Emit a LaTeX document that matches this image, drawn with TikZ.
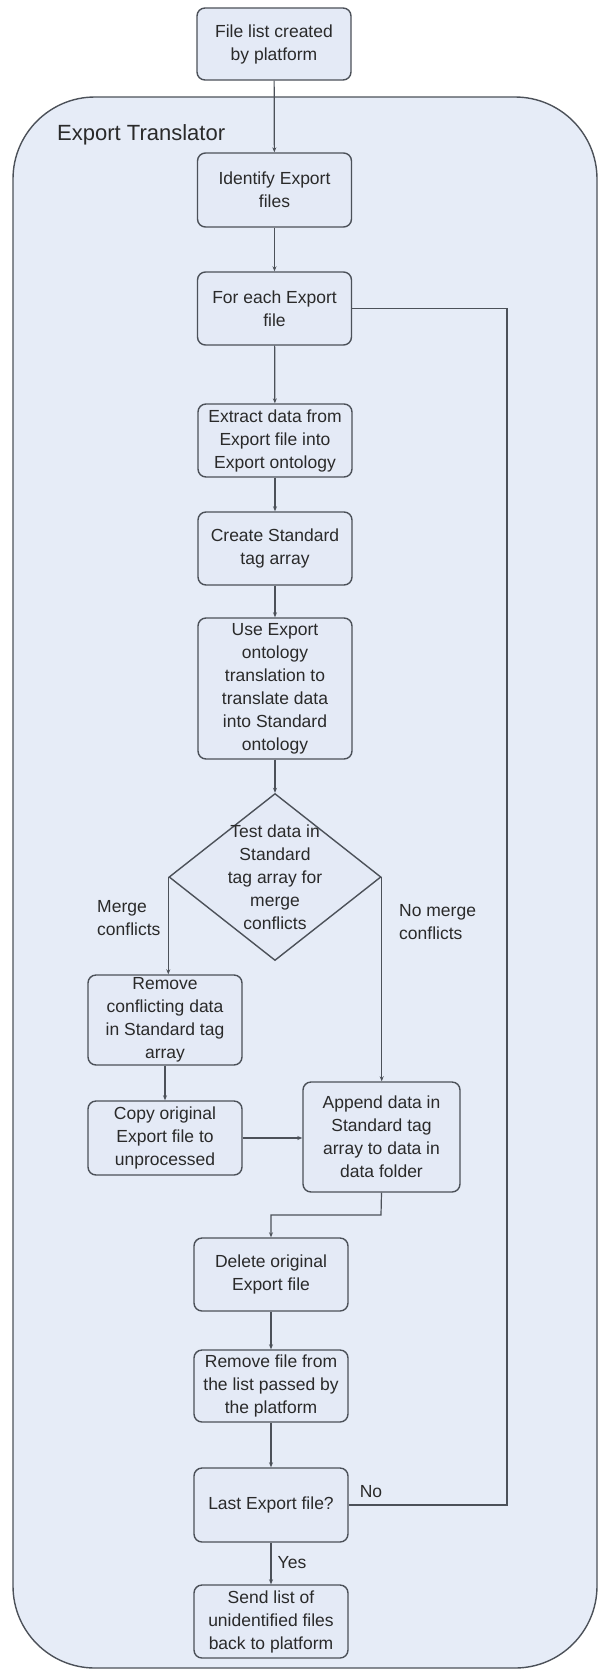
\documentclass[tikz,border=0pt]{standalone}
\usepackage{fontspec}
\setmainfont{Liberation Sans}
\usetikzlibrary{shapes.geometric,arrows.meta}

\definecolor{panelfill}{HTML}{E6ECF7}
\definecolor{boxfill}{HTML}{E4EAF6}
\definecolor{edgecol}{HTML}{4C5159}
\definecolor{inkcol}{HTML}{2A2A2A}

\tikzset{
  procbox/.style={draw=edgecol, line width=1.4pt, fill=boxfill, rounded corners=8pt,
    minimum width=154pt, inner sep=2pt, align=center, text=inkcol,
    font=\fontsize{17.5}{23}\selectfont},
  decision/.style={draw=edgecol, line width=1.4pt, fill=boxfill, shape=diamond,
    minimum width=212pt, minimum height=167pt, inner sep=0pt},
  flow/.style={draw=edgecol, line width=1.2pt, -{Stealth[length=5pt,width=4pt]}},
  plainflow/.style={draw=edgecol, line width=1.2pt},
  tag/.style={text=inkcol, font=\fontsize{17.5}{23}\selectfont, align=left, inner sep=0pt},
}

\begin{document}
\begin{tikzpicture}[x=1pt,y=-1pt]
  \useasboundingbox (0,0) rectangle (599,1670);

  % enclosing panel
  \draw[draw=edgecol, line width=1.4pt, fill=panelfill, rounded corners=82pt]
    (13,97) rectangle (597,1668);
  \node[anchor=west, text=inkcol, font=\fontsize{22}{26}\selectfont, inner sep=0pt]
    (paneltitle) at (57,135) {Export Translator};

  % process steps
  \node[procbox, minimum height=72pt] (start)   at (274,44)    {File list created\\by platform};
  \node[procbox, minimum height=74pt] (ident)   at (274.5,190) {Identify Export\\files};
  \node[procbox, minimum height=73pt] (foreach) at (274.5,308.5) {For each Export\\file};
  \node[procbox, minimum height=73pt] (extract) at (275,440.5)  {Extract data from\\Export file into\\Export ontology};
  \node[procbox, minimum height=73pt] (create)  at (275,548.5)  {Create Standard\\tag array};
  \node[procbox, minimum height=141pt] (usetr)  at (275,688.5)  {Use Export\\ontology\\translation to\\translate data\\into Standard\\ontology};

  \node[decision, label={[tag, align=center]center:Test data in\\Standard\\tag array for\\merge\\conflicts}]
    (test) at (275,877) {};

  \node[procbox, minimum height=90pt] (remove)  at (165,1020)  {Remove\\conflicting  data\\in Standard tag\\array};
  \node[procbox, minimum height=74pt] (copy)    at (165,1138)  {Copy original\\Export file to\\unprocessed};
  \node[procbox, minimum width=157pt, minimum height=110pt] (append) at (381.5,1137) {Append data in\\Standard tag\\array to data in\\data folder};
  \node[procbox, minimum height=73pt] (delete)  at (271,1274.5) {Delete original\\Export file};
  \node[procbox, minimum height=72pt] (rmfile)  at (271,1386)  {Remove file from\\the list passed by\\the platform};
  \node[procbox, minimum height=74pt] (last)    at (271,1505)  {Last Export file?};
  \node[procbox, minimum height=73pt] (send)    at (271,1621.5) {Send list of\\unidentified files\\back to platform};

  % connectors
  \draw[flow] (start) -- (ident);
  \draw[flow] (ident) -- (foreach);
  \draw[flow] (foreach) -- (extract);
  \draw[flow] (extract) -- (create);
  \draw[flow] (create) -- (usetr);
  \draw[flow] (usetr.south -| test.north) -- (test.north);
  \draw[flow] (test.west) -- (test.west |- remove.north);
  \draw[flow] (test.east) -- (test.east |- append.north);
  \draw[flow] (remove) -- (copy);
  \draw[flow] (copy.east) -- (copy.east -| append.west);
  \coordinate (joinpt) at (381,1215);
  \draw[flow] (append.south) -- (joinpt) -| (delete.north);
  \draw[flow] (delete) -- (rmfile);
  \draw[flow] (rmfile) -- (last);
  \draw[flow] (last) -- (send);
  \coordinate (loopcorner) at (507,1505);
  \draw[plainflow] (last.east) -- (loopcorner) |- (foreach.east);

  % branch labels
  \node[tag, anchor=west] (lblmerge) at (97,918) {Merge\\conflicts};
  \node[tag, anchor=west] (lblnomerge) at (399,922) {No merge\\conflicts};
  \node[tag] (lblno) at (371,1492) {No};
  \node[tag] (lblyes) at (292,1563) {Yes};
\end{tikzpicture}
\end{document}
